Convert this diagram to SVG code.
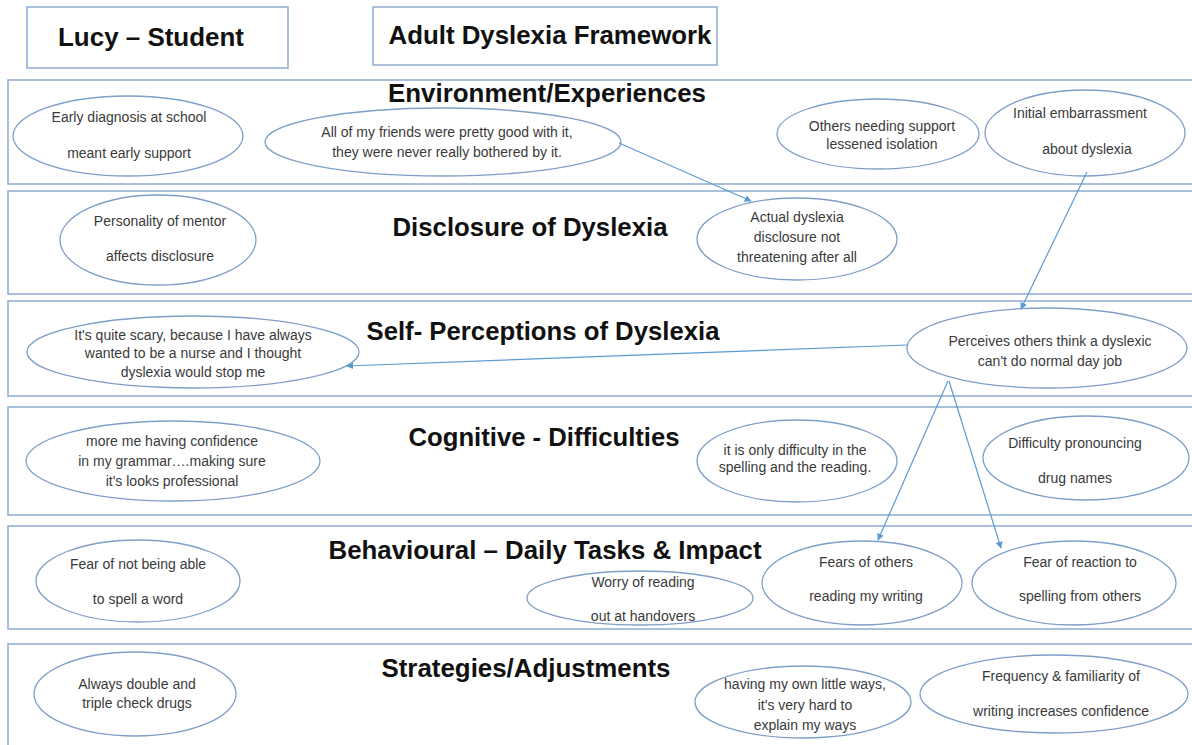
<svg xmlns="http://www.w3.org/2000/svg" width="1192" height="745" viewBox="0 0 1192 745">
<style>
.box{fill:#fff;stroke:#8eaad0;stroke-width:1.5}
.band{fill:#fff;stroke:#8eaad0;stroke-width:1.5}
.ell{fill:#fff;stroke:#7f9ec8;stroke-width:1.3}
.t{font-family:"Liberation Sans",Arial,sans-serif;font-size:14px;fill:#3a3a3a;text-anchor:middle}
.h{font-family:"Liberation Sans",Arial,sans-serif;font-size:25px;font-weight:bold;fill:#111;text-anchor:middle}
.conn{stroke:#5b9bd5;stroke-width:1.2;fill:none;marker-end:url(#ah)}
</style>
<defs>
<marker id="ah" viewBox="0 0 10 10" refX="9" refY="5" markerWidth="7" markerHeight="7" orient="auto" markerUnits="userSpaceOnUse">
<path d="M0,0 L10,5 L0,10 z" fill="#5b9bd5"/>
</marker>
</defs>
<rect width="1192" height="745" fill="#fff"/>
<g id="title-lucy"><rect class="box" x="27" y="7" width="261" height="61"/><text class="h" x="151" y="46" font-size="26" textLength="186" lengthAdjust="spacingAndGlyphs">Lucy – Student</text></g>
<g id="title-framework"><rect class="box" x="373" y="7" width="344" height="58"/><text class="h" x="550" y="44" textLength="323" lengthAdjust="spacingAndGlyphs">Adult Dyslexia Framework</text></g>

<g id="band-environment"><rect class="band" x="8" y="80" width="1200" height="104"/><text class="h" x="547" y="102" textLength="318" lengthAdjust="spacingAndGlyphs">Environment/Experiences</text></g>
<g id="band-disclosure"><rect class="band" x="8" y="191" width="1200" height="103"/><text class="h" x="530" y="236" textLength="275" lengthAdjust="spacingAndGlyphs">Disclosure of Dyslexia</text></g>
<g id="band-self"><rect class="band" x="8" y="301" width="1200" height="95"/><text class="h" x="543" y="340" textLength="353" lengthAdjust="spacingAndGlyphs">Self- Perceptions of Dyslexia</text></g>
<g id="band-cognitive"><rect class="band" x="8" y="407" width="1200" height="108"/><text class="h" x="544" y="446" textLength="271" lengthAdjust="spacingAndGlyphs">Cognitive - Difficulties</text></g>
<g id="band-behavioural"><rect class="band" x="8" y="526" width="1200" height="103"/><text class="h" x="545" y="559" textLength="433" lengthAdjust="spacingAndGlyphs">Behavioural – Daily Tasks &amp; Impact</text></g>
<g id="band-strategies"><rect class="band" x="8" y="644" width="1200" height="120"/><text class="h" x="526" y="677" textLength="289" lengthAdjust="spacingAndGlyphs">Strategies/Adjustments</text></g>

<g id="n-early"><ellipse class="ell" cx="128" cy="136" rx="115" ry="40"/><text class="t" x="129" y="122">Early diagnosis at school</text><text class="t" x="129" y="158">meant early support</text></g>
<g id="n-friends"><ellipse class="ell" cx="443" cy="142" rx="178" ry="34"/><text class="t" x="447" y="137">All of my friends were pretty good with it,</text><text class="t" x="447" y="157">they were never really bothered by it.</text></g>
<g id="n-others"><ellipse class="ell" cx="878" cy="134" rx="101" ry="35"/><text class="t" x="882" y="131">Others needing support</text><text class="t" x="882" y="149">lessened isolation</text></g>
<g id="n-embarrass"><ellipse class="ell" cx="1085" cy="133" rx="100" ry="43"/><text class="t" x="1080" y="118">Initial  embarrassment</text><text class="t" x="1087" y="154">about dyslexia</text></g>

<g id="n-mentor"><ellipse class="ell" cx="158" cy="240" rx="98" ry="45"/><text class="t" x="160" y="226">Personality of mentor</text><text class="t" x="160" y="261">affects disclosure</text></g>
<g id="n-actual"><ellipse class="ell" cx="797" cy="239" rx="100" ry="41"/><text class="t" x="797" y="222">Actual dyslexia</text><text class="t" x="797" y="242">disclosure not</text><text class="t" x="797" y="262">threatening after all</text></g>

<g id="n-scary"><ellipse class="ell" cx="193" cy="352" rx="166" ry="36"/><text class="t" x="193" y="340">It's quite scary, because I have always</text><text class="t" x="193" y="358">wanted to be a nurse and I thought</text><text class="t" x="193" y="377">dyslexia would stop me</text></g>
<g id="n-perceives"><ellipse class="ell" cx="1047" cy="348" rx="140" ry="40"/><text class="t" x="1050" y="346">Perceives  others think a dyslexic</text><text class="t" x="1050" y="366">can't do normal day job</text></g>

<g id="n-grammar"><ellipse class="ell" cx="173" cy="461" rx="147" ry="40"/><text class="t" x="172" y="446">more me having confidence</text><text class="t" x="172" y="466">in my grammar….making sure</text><text class="t" x="172" y="486">it's looks professional</text></g>
<g id="n-spelling"><ellipse class="ell" cx="797" cy="461" rx="100" ry="41"/><text class="t" x="795" y="455">it is only difficulty in the</text><text class="t" x="795" y="472">spelling and the reading.</text></g>
<g id="n-drug"><ellipse class="ell" cx="1086" cy="458" rx="103" ry="42"/><text class="t" x="1075" y="448">Difficulty  pronouncing</text><text class="t" x="1075" y="483">drug names</text></g>

<g id="n-fearspell"><ellipse class="ell" cx="138" cy="581" rx="102" ry="41"/><text class="t" x="138" y="569">Fear of not being able</text><text class="t" x="138" y="604">to spell a word</text></g>
<g id="n-worry"><ellipse class="ell" cx="640" cy="598" rx="113" ry="27"/><text class="t" x="643" y="587">Worry of reading</text><text class="t" x="643" y="621">out at handovers</text></g>
<g id="n-fearsothers"><ellipse class="ell" cx="862" cy="583" rx="100" ry="42"/><text class="t" x="866" y="567">Fears of others</text><text class="t" x="866" y="601">reading my writing</text></g>
<g id="n-fearreaction"><ellipse class="ell" cx="1074" cy="583" rx="102" ry="42"/><text class="t" x="1080" y="567">Fear of reaction to</text><text class="t" x="1080" y="601">spelling from others</text></g>

<g id="n-double"><ellipse class="ell" cx="135" cy="694" rx="101" ry="42"/><text class="t" x="137" y="689">Always double and</text><text class="t" x="137" y="708">triple check drugs</text></g>
<g id="n-ways"><ellipse class="ell" cx="803" cy="702" rx="108" ry="36"/><text class="t" x="805" y="689">having my own little ways,</text><text class="t" x="805" y="710">it's very hard to</text><text class="t" x="805" y="730">explain my ways</text></g>
<g id="n-frequency"><ellipse class="ell" cx="1054" cy="694" rx="134" ry="39"/><text class="t" x="1061" y="681">Frequency  &amp; familiarity of</text><text class="t" x="1061" y="716">writing increases confidence</text></g>

<g id="connectors">
<line class="conn" x1="619" y1="143" x2="751" y2="201"/>
<line class="conn" x1="1087" y1="172" x2="1021" y2="309"/>
<line class="conn" x1="907" y1="345" x2="347" y2="366"/>
<line class="conn" x1="948" y1="381" x2="878" y2="540"/>
<line class="conn" x1="949" y1="381" x2="1001" y2="548"/>
</g>
</svg>
